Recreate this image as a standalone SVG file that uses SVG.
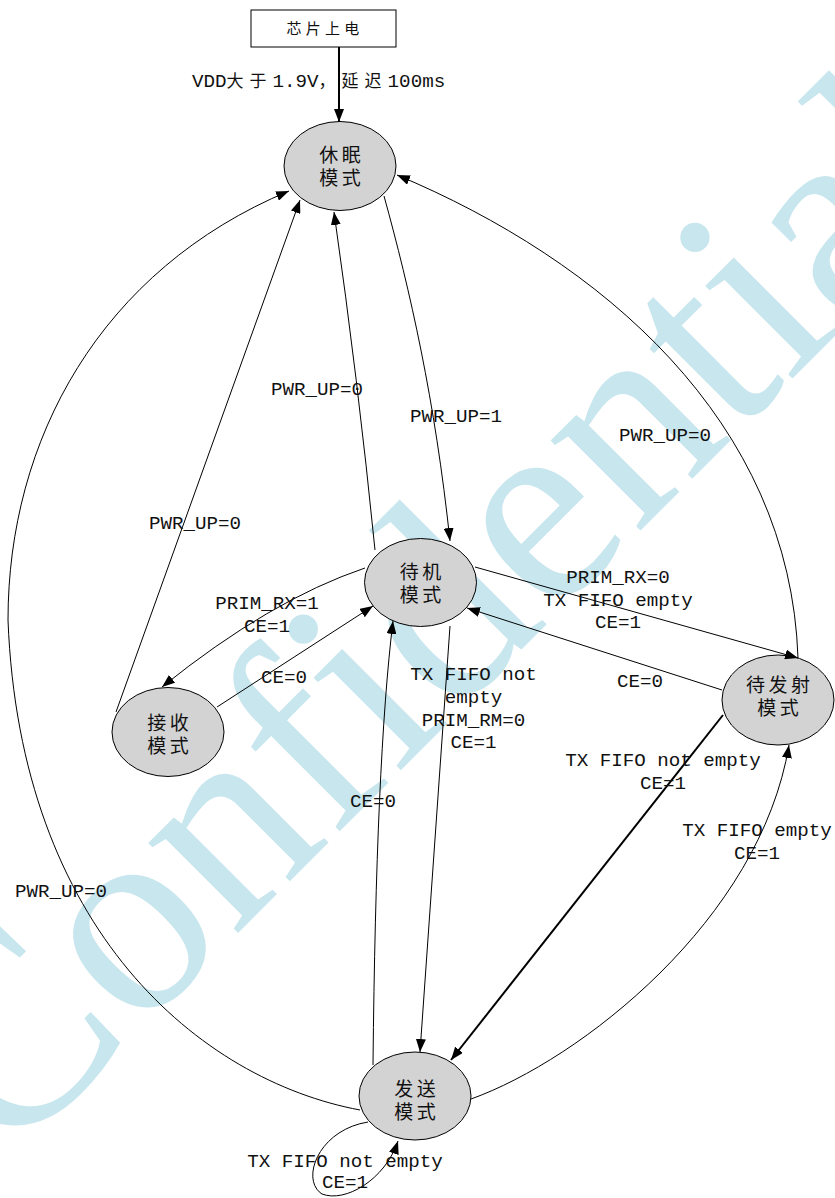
<svg xmlns="http://www.w3.org/2000/svg" width="835" height="1198" viewBox="0 0 835 1198">
<style>
.wm{font-family:"Liberation Serif","DejaVu Serif",serif;font-size:277px;fill:#c8e6ee}
.nd{fill:#d3d3d3;stroke:#000;stroke-width:1}
.nt{font-family:"Noto Sans CJK SC","Noto Sans CJK JP",sans-serif;font-size:19px;letter-spacing:3.5px;fill:#111;text-anchor:middle}
.bt{font-family:"Noto Sans CJK SC","Noto Sans CJK JP",sans-serif;font-size:15px;letter-spacing:4.2px;fill:#111;text-anchor:middle}
.e{fill:none;stroke:#000;stroke-width:1;marker-end:url(#ah)}
.t{stroke-width:2}
.lb{font-family:"Liberation Mono","Noto Sans CJK SC",monospace;font-size:19.2px;fill:#111;text-anchor:middle}
.lbs{font-family:"Liberation Mono","Noto Sans CJK SC",monospace;font-size:19.2px;fill:#111}
.cj{font-family:"Noto Sans CJK SC","Noto Sans CJK JP",sans-serif;font-size:17px;letter-spacing:6px}
</style>
<defs>
<marker id="ah" viewBox="0 0 13 10" refX="13" refY="5" markerWidth="13" markerHeight="10" orient="auto" markerUnits="userSpaceOnUse"><path d="M0,0L13,5L0,10z" fill="#000"/></marker>
</defs>
<rect width="835" height="1198" fill="#fff"/>
<text class="wm" transform="translate(5,1166) rotate(-45)">Confidential</text>

<g id="n-power"><rect x="251" y="10" width="145" height="37" fill="#fff" stroke="#000"/><text class="bt" x="325" y="34">芯片上电</text></g>
<g id="n-sleep"><ellipse class="nd" cx="340" cy="166" rx="56" ry="44.5"/><text class="nt"><tspan x="341.7" y="161.5">休眠</tspan><tspan x="341.7" y="184.5">模式</tspan></text></g>
<g id="n-standby"><ellipse class="nd" cx="420.5" cy="582.5" rx="56" ry="44"/><text class="nt"><tspan x="422.2" y="578.5">待机</tspan><tspan x="422.2" y="601.5">模式</tspan></text></g>
<g id="n-rx"><ellipse class="nd" cx="168" cy="732" rx="56" ry="44.5"/><text class="nt"><tspan x="169.7" y="729.5">接收</tspan><tspan x="169.7" y="752.5">模式</tspan></text></g>
<g id="n-txstandby"><ellipse class="nd" cx="778" cy="700" rx="56" ry="45"/><text class="nt"><tspan x="779.7" y="691.5">待发射</tspan><tspan x="779.7" y="714.5">模式</tspan></text></g>
<g id="n-tx"><ellipse class="nd" cx="415" cy="1096" rx="56" ry="44"/><text class="nt"><tspan x="416.7" y="1095.5">发送</tspan><tspan x="416.7" y="1118.5">模式</tspan></text></g>

<g id="edges">
<g><path class="e t" d="M339,47L339,122"/><text class="lbs" x="192" y="87">VDD<tspan class="cj">大于</tspan>1.9V<tspan class="cj">，延迟</tspan>100ms</text></g>
<g><path class="e" d="M375,550Q358,380 334,212"/><text class="lb" x="317" y="395">PWR_UP=0</text></g>
<g><path class="e" d="M384,196C410,290 435,400 450,541"/><text class="lb" x="456" y="422">PWR_UP=1</text></g>
<g><path class="e" d="M116,712L300,200"/><text class="lb" x="195" y="529">PWR_UP=0</text></g>
<g><path class="e" d="M360,1110C200,1080 20,930 8,620C8,440 100,270 289,191"/><text class="lb" x="61" y="896.5">PWR_UP=0</text></g>
<g><path class="e" d="M798,658C790,420 600,260 397,175"/><text class="lb" x="665" y="441">PWR_UP=0</text></g>
<g><path class="e" d="M365,568Q270,600 162,687"/><text class="lb"><tspan x="267" y="609">PRIM_RX=1</tspan><tspan x="267" y="631.7">CE=1</tspan></text></g>
<g><path class="e" d="M217,707L373,606"/><text class="lb" x="284" y="682.7">CE=0</text></g>
<g><path class="e" d="M475,567L798,658"/><text class="lb"><tspan x="618" y="582.7">PRIM_RX=0</tspan><tspan x="618" y="605.5">TX FIFO empty</tspan><tspan x="618" y="628.3">CE=1</tspan></text></g>
<g><path class="e" d="M722,690L467,608"/><text class="lb" x="640" y="686.7">CE=0</text></g>
<g><path class="e" d="M450,626L420,1052"/><text class="lb"><tspan x="473.5" y="680">TX FIFO not</tspan><tspan x="473.5" y="702.8">empty</tspan><tspan x="473.5" y="725.6">PRIM_RM=0</tspan><tspan x="473.5" y="748.4">CE=1</tspan></text></g>
<g><path class="e" d="M373,1065Q376,760 393,621"/><text class="lb" x="373" y="806.7">CE=0</text></g>
<g><path class="e t" d="M723,715L451,1060"/><text class="lb"><tspan x="663" y="766">TX FIFO not empty</tspan><tspan x="663" y="788.5">CE=1</tspan></text></g>
<g><path class="e" d="M471,1099C580,1060 760,920 789,745"/><text class="lb"><tspan x="757" y="836">TX FIFO empty</tspan><tspan x="757" y="858.5">CE=1</tspan></text></g>
<g><path class="e" d="M368,1122C318,1130 300,1180 322,1194C345,1203 385,1180 398,1141"/><text class="lb"><tspan x="345" y="1166.5">TX FIFO not empty</tspan><tspan x="345" y="1188">CE=1</tspan></text></g>
</g>
</svg>
